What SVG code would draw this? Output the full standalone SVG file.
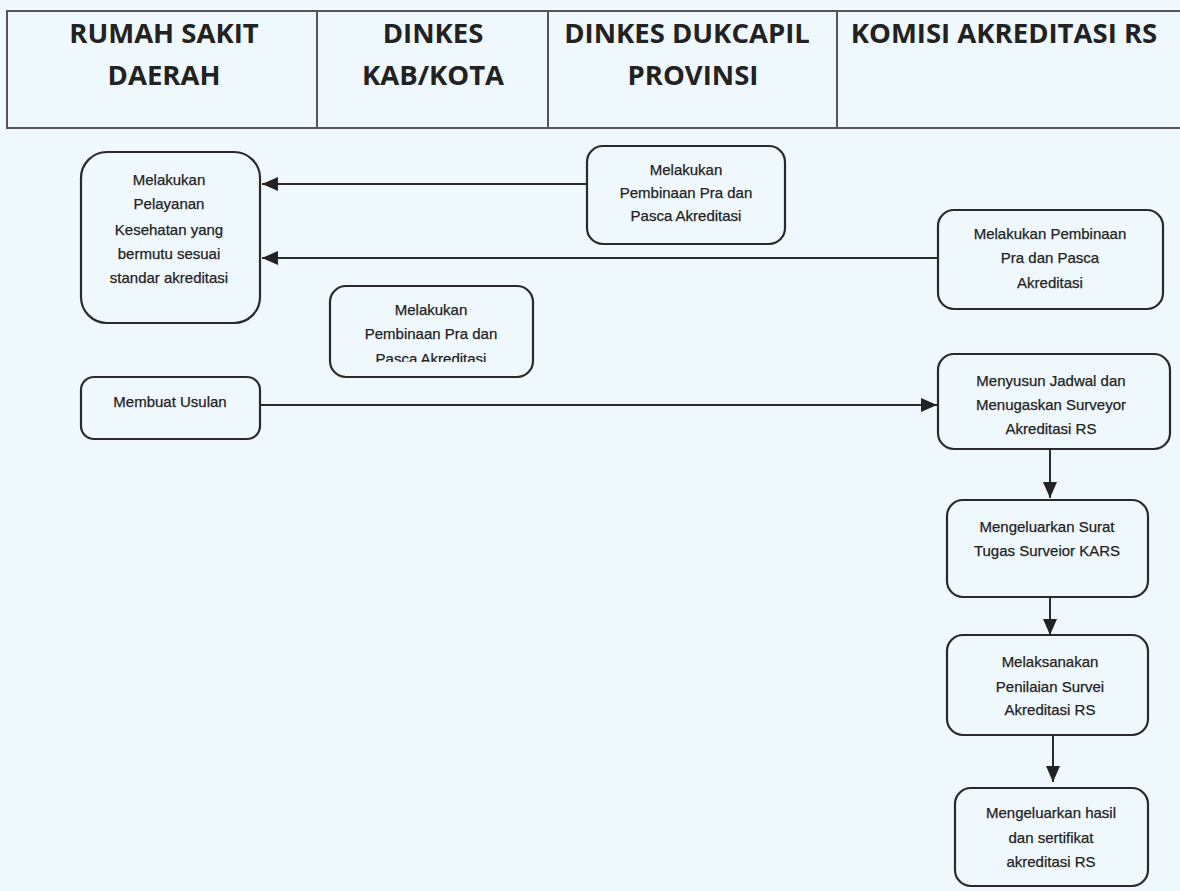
<svg xmlns="http://www.w3.org/2000/svg" width="1180" height="891" viewBox="0 0 1180 891">
<style>
.hdr{font-family:"Open Sans","Liberation Sans",sans-serif;font-weight:700;font-size:27.5px;fill:#222;text-anchor:middle}
.box{fill:none;stroke:#2a2a2a;stroke-width:2.2}
.t{font-family:"Liberation Sans",Arial,sans-serif;font-size:15px;fill:#222;stroke:#222;stroke-width:0.25;text-anchor:middle}
.ln{stroke:#2a2a2a;stroke-width:2;fill:none}
.grid{stroke:#555;stroke-width:2;fill:none}
</style>
<defs>
<marker id="ah" viewBox="0 0 16 14" refX="16" refY="7" markerWidth="16" markerHeight="14" orient="auto" markerUnits="userSpaceOnUse">
<path d="M0,0 L16,7 L0,14 Z" fill="#222"/>
</marker>
<clipPath id="clip4"><rect x="330" y="286" width="204" height="76"/></clipPath>
</defs>
<rect width="1180" height="891" fill="#eff8fc"/>
<g id="header">
<rect class="grid" x="7" y="11" width="1200" height="117"/>
<line class="grid" x1="317" y1="11" x2="317" y2="128"/>
<line class="grid" x1="548" y1="11" x2="548" y2="128"/>
<line class="grid" x1="837" y1="11" x2="837" y2="128"/>
<text class="hdr" x="164" y="43">RUMAH SAKIT</text>
<text class="hdr" x="164" y="85">DAERAH</text>
<text class="hdr" x="433" y="43">DINKES</text>
<text class="hdr" x="433" y="85">KAB/KOTA</text>
<text class="hdr" x="687" y="43">DINKES DUKCAPIL</text>
<text class="hdr" x="693" y="85">PROVINSI</text>
<text class="hdr" x="1004" y="43">KOMISI AKREDITASI RS</text>
</g>
<g id="connectors">
<line class="ln" x1="587" y1="184" x2="262" y2="184" marker-end="url(#ah)"/>
<line class="ln" x1="938" y1="258" x2="262" y2="258" marker-end="url(#ah)"/>
<line class="ln" x1="261" y1="405" x2="937" y2="405" marker-end="url(#ah)"/>
<line class="ln" x1="1050" y1="449" x2="1050" y2="498" marker-end="url(#ah)"/>
<line class="ln" x1="1050" y1="597" x2="1050" y2="635" marker-end="url(#ah)"/>
<line class="ln" x1="1053" y1="735" x2="1053" y2="782" marker-end="url(#ah)"/>
</g>
<g id="n1">
<rect class="box" x="81" y="152" width="179" height="171" rx="26"/>
<text class="t" x="169" y="185">Melakukan</text>
<text class="t" x="169" y="209">Pelayanan</text>
<text class="t" x="169" y="235">Kesehatan yang</text>
<text class="t" x="169" y="259">bermutu sesuai</text>
<text class="t" x="169" y="283">standar akreditasi</text>
</g>
<g id="n2">
<rect class="box" x="587" y="146" width="198" height="98" rx="16"/>
<text class="t" x="686" y="175">Melakukan</text>
<text class="t" x="686" y="198">Pembinaan Pra dan</text>
<text class="t" x="686" y="221">Pasca Akreditasi</text>
</g>
<g id="n3">
<rect class="box" x="938" y="210" width="225" height="99" rx="16"/>
<text class="t" x="1050" y="239">Melakukan Pembinaan</text>
<text class="t" x="1050" y="263">Pra dan Pasca</text>
<text class="t" x="1050" y="288">Akreditasi</text>
</g>
<g id="n4">
<rect class="box" x="330" y="286" width="203" height="91" rx="16"/>
<g clip-path="url(#clip4)">
<text class="t" x="431" y="315">Melakukan</text>
<text class="t" x="431" y="339">Pembinaan Pra dan</text>
<text class="t" x="431" y="364">Pasca Akreditasi</text>
</g>
</g>
<g id="n5">
<rect class="box" x="81" y="377" width="179" height="62" rx="13"/>
<text class="t" x="170" y="407">Membuat Usulan</text>
</g>
<g id="n6">
<rect class="box" x="938" y="354" width="232" height="95" rx="16"/>
<text class="t" x="1051" y="386">Menyusun Jadwal dan</text>
<text class="t" x="1051" y="410">Menugaskan Surveyor</text>
<text class="t" x="1051" y="434">Akreditasi RS</text>
</g>
<g id="n7">
<rect class="box" x="947" y="500" width="201" height="97" rx="16"/>
<text class="t" x="1047" y="532">Mengeluarkan Surat</text>
<text class="t" x="1047" y="556">Tugas Surveior KARS</text>
</g>
<g id="n8">
<rect class="box" x="947" y="635" width="201" height="100" rx="16"/>
<text class="t" x="1050" y="667">Melaksanakan</text>
<text class="t" x="1050" y="692">Penilaian Survei</text>
<text class="t" x="1050" y="715">Akreditasi RS</text>
</g>
<g id="n9">
<rect class="box" x="955" y="788" width="193" height="98" rx="16"/>
<text class="t" x="1051" y="818">Mengeluarkan hasil</text>
<text class="t" x="1051" y="843">dan sertifikat</text>
<text class="t" x="1051" y="867">akreditasi RS</text>
</g>
</svg>
